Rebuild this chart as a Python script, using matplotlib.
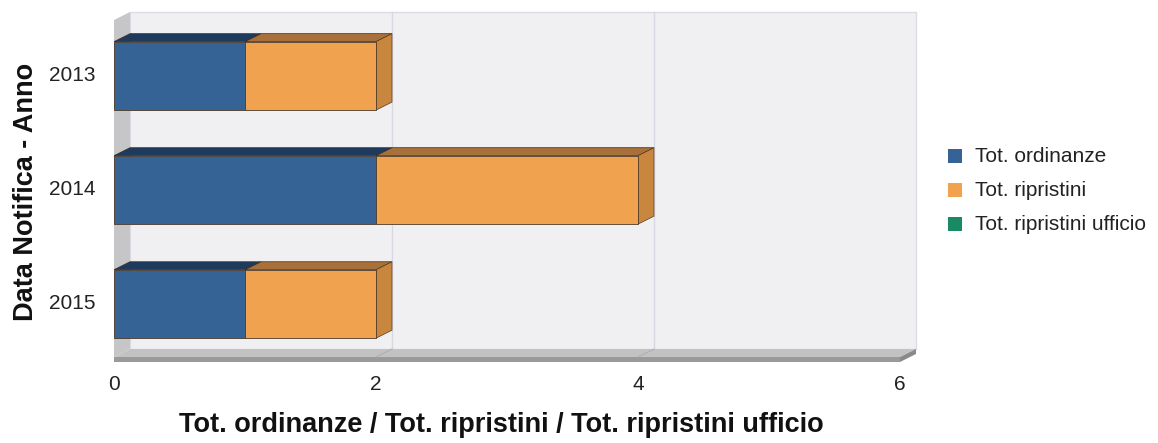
import matplotlib
matplotlib.use("Agg")
import matplotlib.pyplot as plt
from matplotlib.patches import Polygon, Rectangle
import numpy as np

plt.rcParams['font.family'] = ['Liberation Sans', 'DejaVu Sans']

anni = ['2013', '2014', '2015']
tot_ordinanze = [1, 2, 1]
tot_ripristini = [1, 2, 1]
tot_ripristini_ufficio = [0, 0, 0]
serie = ['Tot. ordinanze', 'Tot. ripristini', 'Tot. ripristini ufficio']

# colori: fronte, sopra, lato
col_front = ['#356396', '#f0a24f', '#1a8a62']
col_top = ['#1e3b5e', '#a8703a', '#0f5a40']
col_side = ['#274b73', '#c8863f', '#137050']

W, H = 1158, 443
fig = plt.figure(figsize=(W / 100, H / 100), dpi=100)
L, R, T, B = 114, 900, 20, 357
ax = fig.add_axes([L / W, 1 - B / H, (R - L) / W, (B - T) / H])
ax.set_xlim(0, 6)
ax.set_ylim(2.465, -0.49)
ax.axis('off')

# profondita' in pixel convertita in unita' dati
DX, DY = 16, 8
ux = 6 / (R - L)
uy = (2.465 + 0.49) / (B - T)
dx = DX * ux
dy = -DY * uy
x0, x1 = 0, 6
y_top, y_bot = -0.49, 2.465

# parete di fondo
ax.add_patch(Polygon([(x0 + dx, y_top + dy), (x1 + dx, y_top + dy),
                      (x1 + dx, y_bot + dy), (x0 + dx, y_bot + dy)],
                     closed=True, fc='#f0f0f2', ec='#dcdce4', lw=1, clip_on=False, zorder=0))
for g in [2, 4]:
    ax.plot([g + dx, g + dx], [y_top + dy, y_bot + dy], color='#d8d8e2', lw=1, clip_on=False, zorder=1)
    ax.plot([g, g + dx], [y_bot, y_bot + dy], color='#b0b0b0', lw=0.8, clip_on=False, zorder=2)
# parete sinistra
ax.add_patch(Polygon([(x0, y_top), (x0 + dx, y_top + dy), (x0 + dx, y_bot + dy), (x0, y_bot)],
                     closed=True, fc='#c6c6c8', ec='none', clip_on=False, zorder=1))
# pavimento
ax.add_patch(Polygon([(x0, y_bot), (x1, y_bot), (x1 + dx, y_bot + dy), (x0 + dx, y_bot + dy)],
                     closed=True, fc='#c2c2c2', ec='none', clip_on=False, zorder=1))
ft = 5 * uy
ax.add_patch(Polygon([(x0, y_bot), (x1, y_bot), (x1, y_bot + ft), (x0, y_bot + ft)],
                     closed=True, fc='#9a9a9a', ec='none', clip_on=False, zorder=1))
ax.add_patch(Polygon([(x1, y_bot), (x1 + dx, y_bot + dy), (x1 + dx, y_bot + dy + ft), (x1, y_bot + ft)],
                     closed=True, fc='#8a8a8a', ec='none', clip_on=False, zorder=1))

# barre in pila con effetto 3D
h = 0.6
valori = [tot_ordinanze, tot_ripristini, tot_ripristini_ufficio]
y = np.arange(len(anni))
for i, yi in enumerate(y):
    left = 0
    yt = yi - h / 2
    yb = yi + h / 2
    segs = []
    for s, vals in enumerate(valori):
        v = vals[i]
        if v > 0:
            ax.barh(yi, v, left=left, height=h, color=col_front[s], edgecolor='#4a3a2a',
                    linewidth=0.6, zorder=5)
            ax.add_patch(Polygon([(left, yt), (left + v, yt), (left + v + dx, yt + dy), (left + dx, yt + dy)],
                                 closed=True, fc=col_top[s], ec='#3a2a1a', lw=0.5, zorder=4))
            segs.append(s)
        left += v
    if segs:
        s = segs[-1]
        ax.add_patch(Polygon([(left, yt), (left + dx, yt + dy), (left + dx, yb + dy), (left, yb)],
                             closed=True, fc=col_side[s], ec='#5a3a1a', lw=0.5, zorder=4))

# etichette assi
for g in [0, 2, 4, 6]:
    ax.text(g, y_bot + 28 * uy, str(g), ha='center', va='center', fontsize=15, color='#222222')
for yi, a in zip(y, anni):
    ax.text(-18 * ux, yi, a, ha='right', va='center', fontsize=15, color='#222222')
fig.text(501 / W, 1 - 425 / H, 'Tot. ordinanze / Tot. ripristini / Tot. ripristini ufficio',
         ha='center', va='center', fontsize=19.5, fontweight='bold', color='#111111')
fig.text(26 / W, 1 - 192 / H, 'Data Notifica - Anno', rotation=90, ha='center', va='center',
         fontsize=19.5, fontweight='bold', color='#111111')

# legenda
for k, nome in enumerate(serie):
    yy = 156 + k * 34
    fig.patches.append(Rectangle((948 / W, 1 - (yy + 7) / H), 14 / W, 14 / H,
                                 transform=fig.transFigure, fc=col_front[k], ec='none'))
    fig.text(975 / W, 1 - yy / H, nome, ha='left', va='center', fontsize=15, color='#222222')

fig.savefig('out.png', dpi=100)
